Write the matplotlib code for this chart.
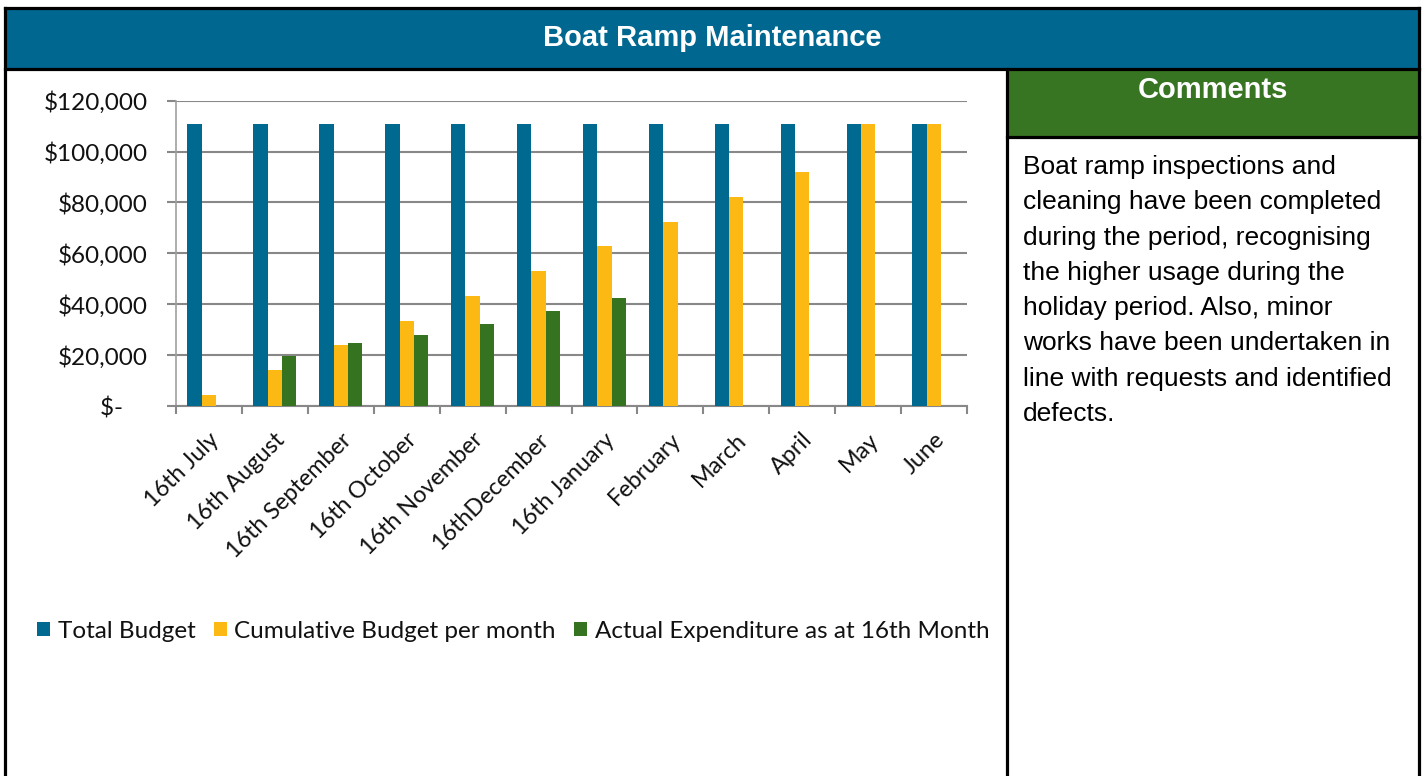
import matplotlib
matplotlib.use("Agg")
import matplotlib.pyplot as plt
from matplotlib.patches import Rectangle, Patch
import matplotlib.transforms as mtransforms
import numpy as np

# ---------------- data ----------------
categories = ["16th July", "16th August", "16th September", "16th October",
              "16th November", "16thDecember", "16th January", "February",
              "March", "April", "May", "June"]
total_budget = [111000] * 12
cumulative_budget = [4300, 14100, 23900, 33600, 43300, 53000, 62700, 72400,
                     82100, 91800, 111000, 111000]
actual_expenditure = [np.nan, 19700, 24900, 27900, 32200, 37200, 42400,
                      np.nan, np.nan, np.nan, np.nan, np.nan]
series_names = ["Total Budget", "Cumulative Budget per month",
                "Actual Expenditure as at 16th Month"]
y_ticks = [0, 20000, 40000, 60000, 80000, 100000, 120000]
y_tick_labels = ["$-    ", "$20,000", "$40,000", "$60,000", "$80,000",
                 "$100,000", "$120,000"]
title_text = "Boat Ramp Maintenance"
comments_title = "Comments"
comment_lines = ["Boat ramp inspections and",
                 "cleaning have been completed",
                 "during the period, recognising",
                 "the higher usage during the",
                 "holiday period. Also, minor",
                 "works have been undertaken in",
                 "line with requests and identified",
                 "defects."]

# ---------------- style ----------------
BLUE = "#006990"
YELLOW = "#FDB913"
GREEN = "#367321"
HDR_BLUE = "#006890"
HDR_GREEN = "#387523"
GRID = "#888888"
FS = 17.5
FSX = 16.8

W, H = 1425, 776
fig = plt.figure(figsize=(W / 100, H / 100), dpi=100)
fig.patch.set_facecolor("white")

# background / layout axes in pixel coordinates
bg = fig.add_axes([0, 0, 1, 1])
bg.set_xlim(0, W)
bg.set_ylim(H, 0)
bg.axis("off")

L, R, T = 5, 1419, 8
TB = 69      # title bar bottom
DIV = 1007   # divider x
GB = 137     # green header bottom

bg.add_patch(Rectangle((L, T), R - L, TB - T, facecolor=HDR_BLUE, edgecolor="none"))
bg.add_patch(Rectangle((DIV, TB), R - DIV, GB - TB, facecolor=HDR_GREEN, edgecolor="none"))
lw = 2.3
bg.plot([L, R], [T, T], color="black", lw=lw, solid_capstyle="projecting")
bg.plot([L, L], [T, H + 5], color="black", lw=lw)
bg.plot([R, R], [T, H + 5], color="black", lw=lw)
bg.plot([L, R], [TB, TB], color="black", lw=lw)
bg.plot([DIV, DIV], [TB, H + 5], color="black", lw=lw)
bg.plot([DIV, R], [GB, GB], color="black", lw=lw)

bg.text((L + R) / 2, 38.5, title_text, color="white", fontsize=21,
        fontweight="bold", family="Liberation Sans", ha="center", va="center")
bg.text((DIV + R) / 2, 90, comments_title, color="white", fontsize=21,
        fontweight="bold", family="Liberation Sans", ha="center", va="center")
for i, line in enumerate(comment_lines):
    bg.text(1023, 174 + i * 35.3, line, color="black", fontsize=19,
            family="Liberation Sans", ha="left", va="baseline")

# ---------------- chart ----------------
ax_l, ax_r, ax_t, ax_b = 176, 967, 100.7, 406
ax = fig.add_axes([ax_l / W, (H - ax_b) / H, (ax_r - ax_l) / W, (ax_b - ax_t) / H])
ax.set_facecolor("none")

x = np.arange(len(categories))
bw = 0.218
ax.bar(x - bw, total_budget, bw, color=BLUE, zorder=3, label=series_names[0])
ax.bar(x, cumulative_budget, bw, color=YELLOW, zorder=3, label=series_names[1])
ax.bar(x + bw, actual_expenditure, bw, color=GREEN, zorder=3, label=series_names[2])

ax.set_xlim(-0.5, len(categories) - 0.5)
ax.set_ylim(0, 120000)
ax.set_yticks(y_ticks)
ax.set_yticklabels(y_tick_labels)
ax.yaxis.grid(True, color=GRID, lw=1.5, zorder=0)
ax.set_axisbelow(True)

for s in ["top", "right"]:
    ax.spines[s].set_visible(False)
ax.spines["left"].set_color("#A0A0A0")
ax.spines["left"].set_linewidth(1.2)
ax.spines["bottom"].set_color(GRID)
ax.spines["bottom"].set_linewidth(1.5)

ax.tick_params(axis="y", length=6.5, width=1.5, color=GRID, pad=14,
               labelsize=FS, labelcolor="#111111")
# x: ticks at category boundaries, labels at centres
ax.set_xticks(np.arange(-0.5, len(categories) + 0.5, 1.0))
ax.set_xticklabels([])
ax.tick_params(axis="x", which="major", length=6, width=1.5, color=GRID)
ax.set_xticks(x, minor=True)
ax.set_xticklabels(categories, minor=True, rotation=45, ha="right",
                   va="center", rotation_mode="anchor")
ax.tick_params(axis="x", which="minor", length=0, pad=22, labelsize=FSX,
               labelcolor="#111111")
shift = mtransforms.ScaledTranslation(7 / 100, 0, fig.dpi_scale_trans)
for lab in ax.get_xticklabels(minor=True):
    lab.set_family("Lato")
    lab.set_transform(lab.get_transform() + shift)
for lab in ax.get_yticklabels():
    lab.set_family("Lato")

handles = [Patch(facecolor=c, edgecolor="none") for c in (BLUE, YELLOW, GREEN)]
leg = fig.legend(handles, series_names, loc="center left",
                 bbox_to_anchor=(37 / W, (H - 631) / H), ncol=3, frameon=False,
                 prop={"family": "Lato", "size": FS}, handlelength=0.55,
                 handleheight=0.55, handletextpad=0.3, columnspacing=0.75,
                 borderaxespad=0, borderpad=0)
for t in leg.get_texts():
    t.set_color("#111111")

fig.savefig("out.png", dpi=100, facecolor="white")
